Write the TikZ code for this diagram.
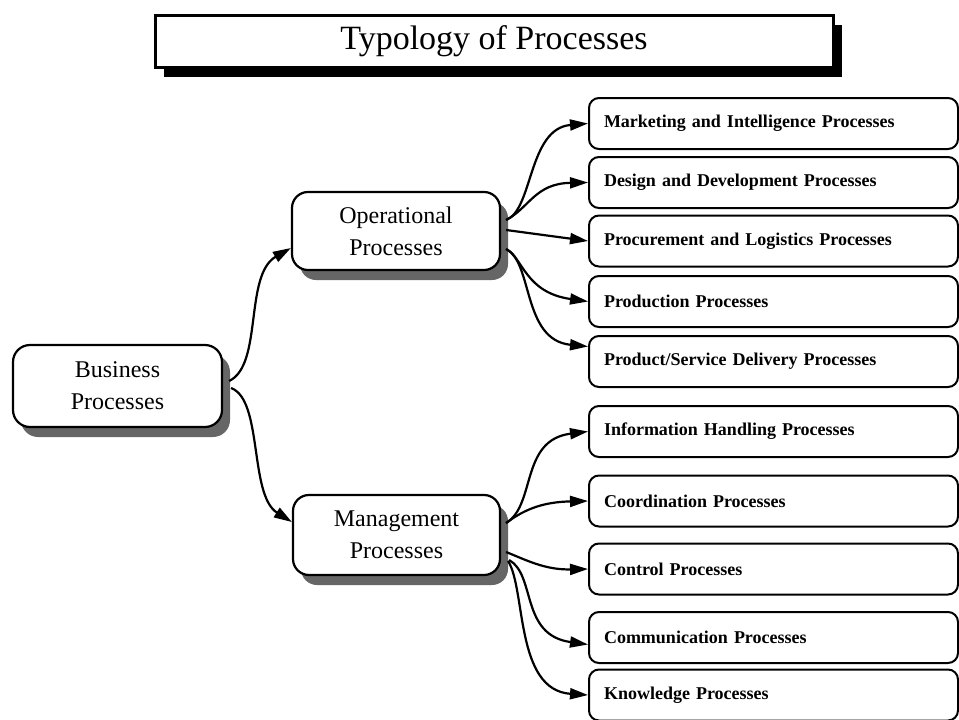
\documentclass[tikz,border=0pt]{standalone}
\usepackage{fontspec}
\setmainfont{Liberation Serif}
\usetikzlibrary{arrows.meta,shadows,calc}
\begin{document}
\begin{tikzpicture}[x=1pt,y=-1pt,
  titlebox/.style={draw,line width=3pt,fill=white,minimum width=678pt,minimum height=52pt,inner sep=0pt,
    font=\fontsize{34}{40}\selectfont,
    general shadow={shadow xshift=9pt,shadow yshift=-10pt,fill=black}},
  mainbox/.style={draw,line width=2.2pt,fill=white,rounded corners=16pt,inner sep=0pt,align=center,
    font=\fontsize{24}{32}\selectfont,
    general shadow={shadow xshift=8pt,shadow yshift=-10pt,fill=black!60}},
  subbox/.style={draw,line width=2pt,rounded corners=10pt,anchor=west,minimum width=369pt,minimum height=51pt,
    text width=339pt,inner xsep=15pt,inner ysep=0pt,align=left,font=\bfseries\fontsize{18}{20}\selectfont},
  conn/.style={line width=2.2pt,-{Triangle[length=18pt,width=11pt]}}
]
\useasboundingbox (0,0) rectangle (959,720);

\node[titlebox] (title) at (494,41) {Typology of Processes};

\node[mainbox,minimum width=209pt,minimum height=82pt,rounded corners=17pt] (biz) at (117.5,386) {Business\\Processes};
\node[mainbox,minimum width=208pt,minimum height=78pt] (oper) at (396,231) {Operational\\Processes};
\node[mainbox,minimum width=207pt,minimum height=80pt] (mgmt) at (396.5,535) {Management\\Processes};

\node[subbox] (m1) at (588,123.5) {Marketing and Intelligence Processes};
\node[subbox] (m2) at (588,182.5) {Design and Development Processes};
\node[subbox] (m3) at (588,241) {Procurement and Logistics Processes};
\node[subbox] (m4) at (588,301.5) {Production Processes};
\node[subbox] (m5) at (588,361.5) {Product/Service Delivery Processes};
\node[subbox] (m6) at (588,431.5) {Information Handling Processes};
\node[subbox] (m7) at (588,501) {Coordination Processes};
\node[subbox] (m8) at (588,569) {Control Processes};
\node[subbox] (m9) at (588,637.5) {Communication Processes};
\node[subbox] (m10) at (588,695) {Knowledge Processes};

% Business -> Operational / Management
\draw[conn] ($(biz.east)+(6,-5)$) .. controls +(34,-16) and +(-47,27) .. ($(oper.west)+(0,17)$);
\draw[conn] ($(biz.east)+(8,2)$) .. controls +(32,12) and +(-43,-27) .. ($(mgmt.west)+(0,-13)$);

% Operational -> sub processes
\draw[conn] ($(oper.east)+(5,-11)$) .. controls +(27,-10) and +(-60,5) .. (m1.west);
\draw[conn] ($(oper.east)+(5,-11)$) .. controls +(23,-12) and +(-53,1) .. (m2.west);
\draw[conn] ($(oper.east)+(5,-1)$) -- (m3.west);
\draw[conn] ($(oper.east)+(5,18)$) .. controls +(17,9) and +(-63,-9) .. (m4.west);
\draw[conn] ($(oper.east)+(5,18)$) .. controls +(27,13) and +(-66,-6.5) .. ($(m5.west)+(0,-15)$);

% Management -> sub processes
\draw[conn] ($(mgmt.east)+(5,-12)$) .. controls +(30,-18) and +(-68,8.5) .. (m6.west);
\draw[conn] ($(mgmt.east)+(5,-12)$) .. controls +(20,-15) and +(-43,1) .. (m7.west);
\draw[conn] ($(mgmt.east)+(5,17)$) .. controls +(20,8) and +(-43,1) .. (m8.west);
\draw[conn] ($(mgmt.east)+(8,25)$) .. controls +(27,15) and +(-68,-9.5) .. ($(m9.west)+(0,7)$);
\draw[conn] ($(mgmt.east)+(7,26)$) .. controls +(18,29) and +(-73,-5) .. (m10.west);
\end{tikzpicture}
\end{document}
